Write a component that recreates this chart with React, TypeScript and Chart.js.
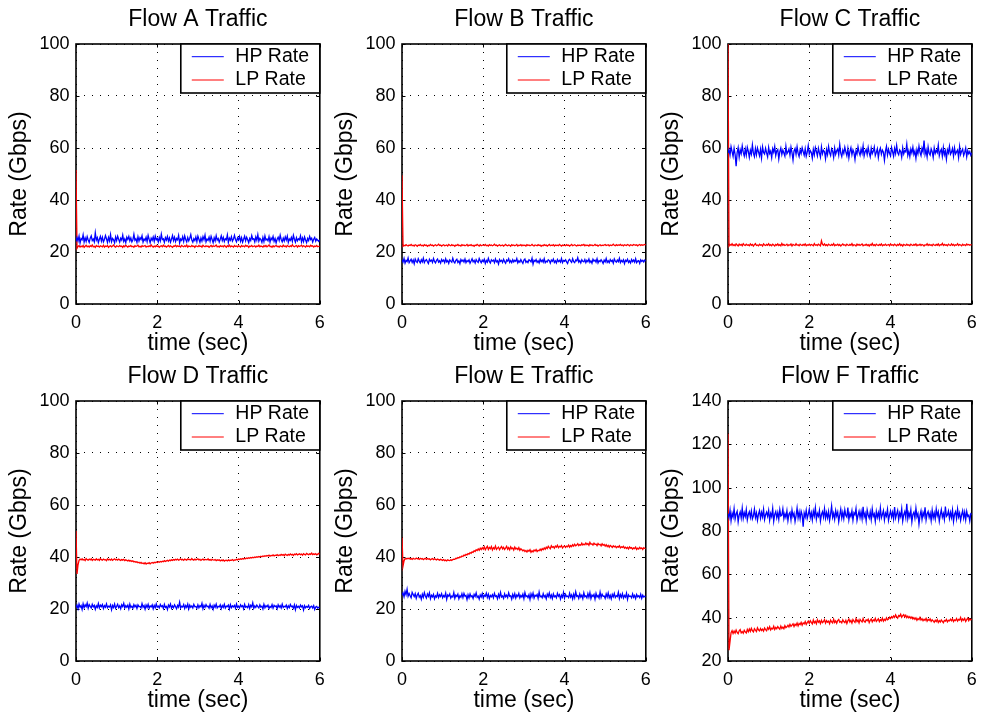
import { useEffect, useRef } from "react";
import { Chart, registerables } from "chart.js";

Chart.register(...registerables);

// ---------- data ----------
const DURATION = 6; // seconds shown on the time axis
const X_TICK_STEP = 2;
const Y_TICK_STEP = 20;
const SERIES_LABELS = ["HP Rate", "LP Rate"];
const SERIES_COLORS = ["#0000ff", "#ff0000"];
const TITLES = ["Flow A Traffic", "Flow B Traffic", "Flow C Traffic", "Flow D Traffic", "Flow E Traffic", "Flow F Traffic"];
const Y_RANGES: [number, number][] = [[0, 100], [0, 100], [0, 100], [0, 100], [0, 100], [20, 140]];
const X_LABEL = "time (sec)";
const Y_LABEL = "Rate (Gbps)";

// rate samples (Gbps), evenly spaced from t = 0 to t = 6 s
const A_HP = [24.0, 25.6, 24.3, 26.1, 23.5, 25.2, 24.7, 26.6, 23.8, 25.4, 24.1, 25.9, 24.6, 23.7, 25.3, 26.2, 24.4, 25.0, 23.9, 27.4,
  24.6, 25.5, 23.6, 24.9, 26.0, 24.2, 25.7, 23.9, 24.8, 26.3, 25.1, 23.7, 25.6, 24.3, 26.7, 24.0, 25.2, 24.7, 23.5, 25.8,
  24.4, 26.1, 24.9, 23.8, 25.3, 24.6, 26.5, 24.1, 25.0, 23.6, 25.7, 24.8, 26.0, 24.3, 25.4, 23.9, 24.7, 26.8, 24.5, 25.1,
  23.7, 25.9, 24.2, 25.5, 24.8, 26.2, 23.8, 25.0, 24.4, 25.7, 24.0, 26.4, 24.9, 23.6, 25.3, 24.5, 25.8, 24.1, 26.1, 24.7,
  25.2, 23.9, 25.6, 24.3, 26.9, 24.8, 25.1, 23.7, 25.5, 24.6, 26.0, 24.2, 25.4, 23.8, 24.9, 26.3, 24.4, 25.7, 24.0, 25.2,
  24.7, 26.4, 23.5, 25.0, 24.5, 25.9, 24.1, 26.2, 24.8, 23.9, 25.6, 24.3, 25.3, 26.7, 24.6, 23.8, 25.1, 24.4, 25.8, 24.0,
  26.1, 24.9, 23.7, 25.4, 24.2, 25.9, 24.7, 26.5, 23.9, 25.0, 24.5, 25.7, 24.1, 26.0, 24.8, 23.6, 25.5, 24.3, 26.3, 24.6,
  25.2, 23.8, 24.9, 26.2, 24.4, 25.6, 24.0, 25.1, 24.7, 26.6, 23.7, 25.3, 24.5, 25.9, 24.2, 25.0, 26.4, 24.8, 23.9, 25.4,
  24.6, 26.0, 24.1, 25.5, 23.8, 24.9, 26.1, 24.3, 25.7, 24.7, 23.6, 25.2, 24.4, 26.3, 24.9, 25.1, 23.9, 25.8, 24.5, 26.7,
  24.2, 25.3, 24.8, 23.7, 25.6, 24.0, 26.2, 24.6, 25.0, 24.3, 25.9, 23.8, 25.4, 24.7, 26.0, 24.1, 25.2, 23.5, 24.9, 25.7,
  24.4, 26.5, 24.8, 23.9, 25.3, 24.2, 25.8, 24.6, 26.1, 23.7, 25.0, 24.5, 25.6, 24.1, 26.4, 24.9, 23.8, 25.5, 24.3, 25.1,
  24.7, 26.2, 23.9, 25.4, 24.0, 25.8, 24.6, 23.6, 25.2, 24.4, 26.0, 24.8, 25.3, 23.8, 24.9, 25.6, 24.2, 25.0, 24.5, 24.1,
  24.8];
const A_LP = [51.5, 21.4, 22.1, 22.4, 21.9, 22.3, 22.0, 22.5, 21.8, 22.2, 22.6, 22.0, 22.3, 21.9, 22.4, 22.1, 22.7, 22.0, 22.2, 21.8,
  22.5, 22.1, 22.3, 21.9, 22.4, 22.2, 22.0, 22.6, 21.9, 22.3, 22.1, 22.5, 21.8, 22.2, 22.4, 22.0, 22.3, 22.7, 22.1, 21.9,
  22.4, 22.2, 22.0, 22.5, 22.1, 22.3, 21.8, 22.4, 22.0, 22.6, 22.2, 21.9, 22.3, 22.1, 22.5, 22.0, 22.2, 21.8, 22.4, 22.1,
  22.3, 22.6, 22.0, 22.2, 21.9, 22.4, 22.1, 22.3, 22.5, 21.9, 22.2, 22.0, 22.4, 22.1, 22.7, 22.2, 21.9, 22.3, 22.0, 22.5,
  22.1, 22.3, 21.8, 22.2, 22.4, 22.0, 22.6, 22.1, 22.3, 21.9, 22.2, 22.5, 22.0, 22.4, 22.1, 21.8, 22.3, 22.2, 22.6, 22.0,
  22.4, 22.1, 22.3, 21.9, 22.5, 22.2, 22.0, 22.4, 22.1, 22.7, 21.9, 22.3, 22.2, 22.0, 22.5, 22.1, 22.3, 21.8, 22.4, 22.2,
  22.0, 22.5, 22.1, 22.3, 21.9, 22.6, 22.2, 22.0, 22.4, 22.1, 22.3, 21.8, 22.2, 22.5, 22.0, 22.4, 22.1, 22.3, 22.7, 22.0,
  22.2, 21.9, 22.4, 22.1, 22.3, 22.0, 22.5, 22.2, 21.8, 22.4, 22.1, 22.6, 22.0, 22.3, 22.2, 21.9, 22.5, 22.1, 22.3, 22.0,
  22.4, 22.2, 21.9, 22.5, 22.1, 22.3, 22.0, 22.6, 22.2, 22.4, 21.8, 22.3, 22.1, 22.5, 22.0, 22.2, 22.4, 21.9, 22.3, 22.1,
  22.6, 22.0, 22.3, 22.2, 21.9, 22.4, 22.1, 22.5, 22.0, 22.3, 22.7, 22.1, 22.2, 21.8, 22.4, 22.0, 22.3, 22.5, 22.1, 22.2,
  21.9, 22.4, 22.2, 22.0, 22.6, 22.1, 22.3, 21.9, 22.5, 22.2, 22.0, 22.4, 22.1, 22.8, 22.2, 22.0, 22.3, 22.5, 21.9, 22.4,
  22.1, 22.3, 22.6, 22.0, 22.4, 22.2, 21.9, 22.5, 22.1, 22.3, 22.0, 22.6, 22.2, 22.4, 21.9, 22.3, 22.1, 22.5, 22.0, 22.2,
  22.3];
const B_HP = [17.0, 16.1, 17.5, 15.7, 16.8, 16.3, 17.7, 15.9, 16.6, 17.2, 16.0, 16.9, 15.5, 17.3, 16.4, 16.0, 17.4, 16.5, 15.8, 17.0,
  16.2, 17.6, 15.9, 16.7, 17.1, 16.3, 15.6, 17.2, 16.5, 16.9, 16.0, 17.5, 16.4, 15.8, 16.8, 17.3, 16.1, 16.6, 15.7, 17.1,
  16.4, 16.9, 15.9, 17.4, 16.2, 16.7, 15.6, 17.0, 16.5, 16.1, 17.6, 16.3, 15.8, 16.8, 17.2, 16.0, 16.6, 15.5, 17.1, 16.4,
  16.9, 16.1, 17.3, 15.9, 16.7, 16.3, 17.0, 15.7, 16.5, 17.4, 16.2, 16.8, 15.8, 17.1, 16.4, 16.0, 17.5, 16.6, 15.9, 16.9,
  16.3, 17.2, 15.6, 16.7, 16.1, 17.6, 16.4, 15.8, 17.0, 16.5, 16.9, 15.9, 17.3, 16.2, 16.6, 15.4, 17.1, 16.4, 16.8, 16.0,
  17.2, 16.3, 15.7, 16.9, 16.5, 17.4, 16.0, 16.7, 15.9, 17.0, 16.2, 16.8, 16.4, 17.5, 15.8, 16.6, 16.1, 17.1, 16.3, 15.6,
  16.9, 17.3, 16.0, 16.5, 15.9, 17.0, 16.7, 16.2, 17.6, 15.3, 16.8, 16.4, 17.1, 16.0, 16.6, 15.8, 17.2, 16.3, 16.9, 16.1,
  17.4, 15.9, 16.5, 16.2, 17.0, 16.7, 15.7, 16.9, 16.4, 17.3, 16.0, 16.6, 15.8, 17.1, 16.3, 16.8, 16.1, 17.5, 15.9, 16.7,
  16.4, 17.0, 16.2, 15.6, 16.8, 17.2, 16.5, 16.0, 17.4, 16.3, 15.9, 16.9, 16.6, 17.8, 16.1, 16.7, 15.8, 17.0, 16.4, 16.2,
  17.1, 15.9, 16.8, 16.3, 17.3, 16.0, 16.6, 15.7, 17.2, 16.5, 16.9, 16.1, 17.4, 15.8, 16.7, 16.3, 17.0, 16.4, 15.6, 16.9,
  16.2, 17.5, 16.0, 16.6, 15.9, 17.1, 16.4, 16.8, 15.7, 17.3, 16.5, 16.1, 16.9, 16.3, 17.6, 15.9, 16.7, 16.2, 17.0, 15.5,
  16.8, 16.4, 17.2, 16.0, 16.6, 15.8, 17.1, 16.3, 16.9, 16.1, 17.4, 15.9, 16.5, 16.7, 15.6, 17.0, 16.4, 16.8, 16.2, 16.9,
  16.5];
const B_LP = [49.5, 22.2, 22.6, 22.4, 22.8, 22.5, 22.3, 22.7, 22.5, 22.9, 22.4, 22.6, 22.3, 22.8, 22.6, 22.2, 22.7, 22.5, 22.9, 22.4,
  22.6, 22.3, 22.8, 22.5, 22.7, 22.2, 22.6, 22.4, 22.9, 22.5, 22.7, 22.3, 22.6, 22.8, 22.4, 22.6, 23.0, 22.5, 22.7, 22.3,
  22.6, 22.8, 22.4, 22.5, 22.7, 22.3, 22.9, 22.6, 22.4, 22.8, 22.5, 22.6, 22.2, 22.7, 22.5, 22.9, 22.4, 22.6, 22.3, 22.8,
  22.5, 22.7, 22.4, 22.6, 22.9, 22.3, 22.7, 22.5, 22.8, 22.4, 22.6, 22.2, 22.7, 22.5, 22.9, 22.6, 22.3, 22.8, 22.4, 22.6,
  22.7, 22.5, 22.9, 22.4, 22.6, 22.3, 22.8, 22.5, 22.7, 22.4, 22.6, 23.0, 22.5, 22.7, 22.3, 22.6, 22.8, 22.4, 22.5, 22.7,
  22.3, 22.6, 22.9, 22.5, 22.4, 22.7, 22.6, 22.2, 22.8, 22.5, 22.7, 22.4, 22.6, 22.9, 22.3, 22.6, 22.5, 22.8, 22.4, 22.7,
  22.5, 22.6, 22.3, 22.8, 22.5, 22.7, 22.4, 22.6, 22.9, 22.5, 22.3, 22.7, 22.6, 22.4, 22.8, 22.5, 22.7, 22.2, 22.6, 22.4,
  22.8, 22.5, 22.7, 22.3, 22.6, 22.9, 22.4, 22.6, 22.5, 22.8, 22.3, 22.7, 22.5, 22.6, 22.4, 22.9, 22.6, 22.3, 22.7, 22.5,
  22.6, 22.4, 22.8, 22.5, 22.7, 22.3, 22.6, 22.9, 22.4, 22.6, 22.8, 22.5, 22.3, 22.7, 22.5, 22.6, 22.4, 22.8, 22.6, 22.9,
  22.4, 22.7, 22.5, 22.6, 22.3, 22.8, 22.5, 22.7, 22.4, 22.6, 22.9, 22.5, 22.7, 22.3, 22.6, 22.8, 22.4, 22.6, 22.5, 22.7,
  22.9, 22.5, 22.6, 22.8, 22.4, 22.7, 22.5, 22.6, 23.0, 22.6, 22.4, 22.8, 22.5, 22.7, 22.6, 22.9, 22.5, 22.7, 22.4, 22.8,
  22.6, 22.5, 22.9, 22.7, 22.4, 22.8, 22.6, 22.5, 22.9, 22.7, 22.6, 22.8, 22.4, 22.7, 22.9, 22.5, 22.8, 22.6, 22.7, 22.9,
  22.7];
const C_HP = [58.0, 59.4, 57.3, 60.5, 58.6, 56.8, 59.9, 57.5, 53.0, 58.2, 60.1, 56.5, 59.3, 57.8, 60.8, 58.4, 56.9, 59.6, 57.2, 60.3,
  58.7, 56.4, 59.1, 57.6, 61.2, 58.0, 56.7, 59.8, 57.4, 60.0, 58.5, 57.0, 59.5, 56.2, 60.4, 58.3, 57.7, 59.9, 58.1, 56.6,
  60.2, 57.9, 58.8, 56.3, 59.7, 58.4, 60.6, 57.1, 58.9, 59.4, 55.8, 58.6, 60.0, 57.5, 59.2, 58.1, 56.9, 60.7, 57.8, 58.5,
  59.6, 57.3, 60.3, 58.2, 55.4, 58.9, 59.8, 57.6, 60.5, 58.0, 56.7, 59.3, 57.9, 60.1, 58.6, 57.2, 59.7, 56.8, 58.4, 60.9,
  57.7, 59.0, 58.3, 56.1, 59.5, 57.4, 60.2, 58.7, 57.0, 59.9, 58.1, 56.5, 60.4, 57.8, 59.1, 58.6, 55.9, 59.4, 57.5, 60.6,
  58.2, 57.1, 59.7, 58.8, 56.4, 60.0, 57.6, 58.9, 59.6, 57.3, 61.3, 58.0, 56.7, 59.2, 57.9, 60.3, 58.5, 57.0, 59.8, 56.2,
  58.7, 60.1, 57.4, 59.3, 58.2, 55.6, 59.0, 57.7, 60.5, 58.4, 57.2, 59.6, 58.0, 60.8, 56.9, 58.6, 59.4, 57.5, 60.2, 58.1,
  56.6, 59.9, 57.8, 58.7, 60.4, 57.1, 58.3, 59.7, 56.3, 58.9, 60.0, 57.6, 59.2, 58.4, 55.3, 58.8, 60.6, 57.3, 59.5, 58.0,
  57.0, 60.2, 58.6, 56.8, 59.8, 57.9, 61.0, 58.2, 57.4, 59.3, 58.7, 56.5, 60.1, 57.7, 59.0, 58.5, 61.5, 57.2, 58.9, 56.7,
  59.6, 58.1, 60.3, 57.5, 58.8, 56.0, 59.4, 57.8, 60.7, 58.3, 57.1, 59.9, 58.5, 62.9, 57.6, 59.2, 56.6, 60.4, 58.0, 57.3,
  59.7, 58.6, 56.4, 60.0, 57.9, 59.1, 58.2, 61.1, 57.0, 58.7, 59.5, 56.8, 60.2, 57.4, 58.9, 55.7, 59.3, 58.1, 60.6, 57.6,
  58.4, 59.8, 56.9, 60.1, 57.7, 58.5, 59.2, 56.3, 60.5, 57.5, 58.8, 59.6, 57.1, 58.3, 60.0, 56.6, 59.0, 57.8, 58.6, 57.2,
  58.2];
const C_LP = [100.0, 22.3, 22.9, 22.6, 23.2, 22.5, 22.8, 22.4, 23.1, 22.7, 22.3, 23.0, 22.6, 22.9, 22.4, 23.2, 22.7, 22.5, 23.0, 22.6,
  22.8, 22.4, 23.1, 22.6, 22.9, 22.3, 22.8, 23.2, 22.5, 22.7, 22.4, 23.0, 22.6, 22.8, 22.3, 23.1, 22.7, 22.5, 22.9, 22.6,
  23.2, 22.5, 22.8, 22.4, 23.0, 22.7, 22.3, 22.9, 22.6, 23.1, 22.5, 22.8, 22.4, 23.3, 22.6, 22.9, 22.5, 22.7, 23.0, 22.4,
  22.8, 22.6, 23.1, 22.3, 22.9, 22.7, 22.5, 23.2, 22.6, 22.8, 22.4, 23.0, 22.7, 22.5, 22.9, 22.6, 23.1, 22.4, 22.8, 22.6,
  23.0, 22.5, 22.9, 22.7, 22.4, 23.2, 22.6, 22.8, 22.5, 23.0, 22.7, 22.4, 24.3, 22.9, 22.6, 23.1, 22.5, 22.8, 22.4, 23.0,
  22.7, 22.5, 22.9, 22.6, 23.2, 22.4, 22.8, 22.6, 23.0, 22.5, 22.9, 22.3, 22.7, 23.1, 22.6, 22.8, 22.4, 23.0, 22.7, 22.5,
  22.9, 22.6, 23.2, 22.4, 22.8, 22.7, 22.3, 23.0, 22.6, 22.9, 22.5, 22.8, 23.1, 22.4, 22.7, 22.6, 23.0, 22.5, 22.8, 22.3,
  22.9, 22.6, 23.3, 22.5, 22.8, 22.4, 23.0, 22.7, 22.5, 22.9, 22.6, 23.1, 22.4, 22.8, 22.6, 23.0, 22.5, 22.7, 22.9, 22.4,
  23.1, 22.6, 22.8, 22.5, 23.0, 22.7, 22.4, 22.9, 22.6, 23.2, 22.5, 22.8, 22.3, 22.9, 22.7, 22.5, 23.0, 22.6, 22.8, 22.4,
  23.0, 22.7, 22.5, 22.9, 22.6, 23.1, 22.4, 22.8, 22.6, 23.0, 22.5, 22.9, 22.7, 22.3, 22.8, 22.6, 23.2, 22.5, 22.9, 22.6,
  22.8, 22.4, 23.0, 22.7, 22.5, 22.9, 22.6, 23.1, 22.4, 22.8, 22.7, 23.3, 22.5, 22.9, 22.6, 22.8, 22.4, 23.0, 22.7, 22.5,
  23.1, 22.6, 22.9, 22.4, 22.8, 22.6, 23.2, 22.5, 22.9, 22.7, 22.4, 23.0, 22.6, 22.8, 22.5, 23.1, 22.7, 22.9, 22.6, 22.8,
  22.7];
const D_HP = [20.6, 21.5, 20.1, 21.9, 20.7, 21.3, 19.8, 22.0, 20.5, 21.6, 20.9, 22.3, 20.3, 21.7, 21.0, 20.4, 21.8, 20.8, 21.4, 19.9,
  21.2, 20.6, 22.1, 20.4, 21.5, 20.9, 21.7, 20.2, 21.3, 20.7, 22.0, 20.5, 21.1, 20.8, 21.6, 19.7, 21.4, 20.6, 21.9, 20.3,
  21.0, 21.8, 20.5, 21.2, 20.1, 21.6, 20.9, 22.2, 20.4, 21.3, 20.7, 21.5, 20.0, 21.9, 20.6, 21.1, 20.3, 21.7, 20.8, 21.4,
  20.2, 21.6, 20.9, 21.0, 20.4, 22.1, 20.7, 21.3, 19.9, 21.5, 20.6, 21.8, 20.3, 21.2, 20.8, 21.6, 20.1, 21.4, 20.5, 22.0,
  20.7, 21.1, 20.4, 21.7, 20.9, 21.3, 20.2, 21.8, 20.6, 21.0, 19.8, 21.5, 20.8, 21.9, 20.3, 21.2, 20.5, 21.6, 20.9, 20.1,
  21.4, 20.7, 22.6, 20.4, 21.1, 20.8, 21.7, 20.2, 21.3, 20.6, 21.9, 20.0, 21.5, 20.7, 21.2, 20.4, 21.8, 20.9, 21.0, 20.3,
  21.6, 20.5, 21.3, 20.8, 22.2, 20.1, 21.4, 20.6, 21.7, 20.9, 21.1, 20.3, 21.8, 20.5, 21.2, 19.9, 21.5, 20.7, 21.9, 20.4,
  21.0, 20.8, 21.6, 20.2, 21.3, 20.6, 21.8, 20.4, 21.1, 20.9, 21.5, 20.0, 21.7, 20.5, 21.2, 20.8, 21.4, 20.3, 21.9, 20.6,
  21.1, 20.4, 21.6, 20.9, 21.3, 20.1, 21.8, 20.7, 21.0, 20.5, 21.7, 20.2, 21.4, 20.8, 22.4, 20.3, 21.2, 20.6, 21.5, 20.9,
  20.4, 21.6, 20.7, 21.1, 20.0, 21.8, 20.5, 21.3, 20.8, 21.5, 20.2, 21.0, 20.6, 21.7, 20.3, 21.4, 20.9, 21.2, 20.1, 21.6,
  20.7, 21.3, 20.4, 21.9, 20.6, 21.0, 20.8, 21.5, 20.2, 21.2, 20.5, 21.7, 20.9, 21.1, 20.3, 21.6, 19.7, 21.4, 20.6, 21.0,
  20.4, 21.5, 20.8, 21.2, 19.6, 21.3, 20.5, 21.0, 20.7, 21.4, 20.2, 20.9, 21.1, 20.4, 21.3, 19.8, 20.8, 21.0, 20.3, 20.7,
  20.6];
const D_LP = [50.0, 33.5, 37.0, 38.7, 39.2, 38.9, 39.3, 38.8, 39.1, 38.6, 39.4, 39.0, 38.8, 39.2, 38.9, 39.3, 38.7, 39.1, 39.0, 38.8,
  39.3, 38.9, 39.1, 38.7, 39.4, 39.0, 38.8, 39.2, 38.9, 39.0, 38.6, 39.3, 38.9, 39.1, 38.8, 39.2, 38.7, 39.0, 39.3, 38.9,
  39.1, 38.8, 39.2, 38.9, 38.7, 39.0, 38.8, 39.1, 38.6, 38.9, 38.7, 38.5, 38.8, 38.4, 38.6, 38.3, 38.5, 38.1, 38.3, 38.0,
  38.2, 37.8, 38.0, 37.6, 37.9, 37.5, 37.7, 37.4, 37.8, 37.3, 37.6, 37.5, 37.8, 37.4, 37.7, 37.9, 37.6, 38.0, 37.8, 38.1,
  37.9, 38.2, 38.0, 38.3, 38.1, 38.4, 38.2, 38.6, 38.3, 38.5, 38.7, 38.4, 38.8, 38.6, 38.9, 38.7, 39.0, 38.8, 39.1, 38.9,
  39.2, 38.8, 39.0, 39.3, 38.9, 39.1, 38.7, 39.2, 39.0, 38.8, 39.3, 39.0, 39.1, 38.9, 39.4, 39.0, 38.8, 39.2, 38.9, 39.1,
  39.3, 38.9, 39.1, 38.7, 39.0, 39.2, 38.8, 39.1, 39.0, 38.9, 39.3, 38.8, 39.0, 38.7, 39.1, 38.9, 38.8, 39.0, 38.6, 38.9,
  38.7, 38.9, 38.5, 38.8, 38.6, 38.9, 38.4, 38.7, 38.8, 38.5, 38.9, 38.6, 38.8, 38.7, 39.0, 38.6, 38.9, 38.8, 39.1, 38.9,
  39.2, 39.0, 39.3, 39.1, 39.4, 39.2, 39.5, 39.3, 39.6, 39.4, 39.7, 39.5, 39.8, 39.6, 39.9, 39.7, 40.0, 39.8, 40.1, 39.9,
  40.2, 40.0, 40.3, 40.1, 40.4, 40.2, 40.5, 40.3, 40.6, 40.4, 40.7, 40.3, 40.6, 40.5, 40.8, 40.4, 40.7, 40.6, 40.9, 40.5,
  40.8, 40.6, 41.0, 40.7, 40.9, 40.5, 41.1, 40.8, 40.6, 41.0, 40.7, 41.2, 40.8, 41.0, 40.6, 41.1, 40.9, 41.3, 40.8, 41.0,
  41.2, 40.9, 41.1, 40.7, 41.3, 41.0, 40.8, 41.4, 41.1, 40.9, 41.2, 41.0, 41.5, 40.9, 41.2, 41.0, 41.3, 40.8, 41.1, 41.4,
  41.0];
const E_HP = [25.3, 26.2, 24.7, 26.8, 25.5, 27.6, 24.9, 26.0, 25.1, 24.3, 26.4, 25.6, 24.8, 25.9, 24.1, 25.4, 26.1, 24.6, 25.2, 23.8,
  25.7, 24.5, 26.3, 25.0, 24.2, 25.8, 24.9, 26.2, 24.0, 25.3, 24.7, 25.6, 23.9, 25.1, 24.6, 26.0, 24.4, 25.5, 24.8, 25.9,
  24.3, 25.2, 24.7, 26.1, 23.7, 25.4, 24.9, 25.8, 24.2, 25.0, 24.6, 26.3, 24.1, 25.3, 24.8, 25.7, 23.9, 25.1, 24.5, 25.9,
  24.4, 26.0, 24.9, 25.2, 23.6, 25.5, 24.3, 25.8, 24.7, 25.1, 24.0, 25.6, 24.8, 26.2, 24.5, 25.0, 23.8, 25.4, 24.6, 25.9,
  24.2, 25.3, 24.9, 26.1, 24.4, 25.7, 24.0, 25.2, 24.7, 25.5, 24.3, 26.0, 24.8, 25.1, 23.9, 25.6, 24.5, 26.4, 24.6, 25.0,
  24.1, 25.8, 24.7, 25.3, 24.4, 26.2, 24.9, 25.1, 23.8, 25.6, 24.5, 25.9, 24.2, 25.4, 24.8, 26.0, 24.3, 25.2, 24.6, 25.7,
  24.0, 26.3, 24.8, 25.1, 24.4, 25.5, 23.7, 25.8, 24.6, 26.1, 24.2, 25.3, 24.9, 25.6, 24.1, 26.5, 24.7, 25.0, 24.3, 25.9,
  24.6, 25.2, 23.9, 25.7, 24.8, 26.2, 24.4, 25.4, 24.0, 25.8, 24.7, 25.1, 24.3, 26.0, 24.9, 25.5, 23.8, 25.3, 24.5, 26.4,
  24.2, 25.6, 24.8, 25.0, 24.4, 26.1, 24.6, 25.4, 23.9, 25.7, 24.3, 26.6, 24.9, 25.2, 24.1, 25.8, 24.6, 25.3, 24.0, 26.2,
  24.7, 25.1, 24.3, 25.9, 24.5, 26.3, 24.0, 25.4, 24.8, 25.6, 23.8, 26.0, 24.6, 25.2, 24.2, 26.5, 24.4, 25.7, 24.9, 25.0,
  24.1, 25.8, 24.6, 26.2, 24.3, 25.3, 23.9, 25.6, 24.7, 26.0, 24.4, 25.1, 24.8, 26.4, 24.0, 25.5, 24.5, 25.9, 24.2, 25.2,
  24.6, 26.1, 23.7, 25.4, 24.8, 25.0, 24.3, 25.8, 24.5, 25.2, 24.0, 25.6, 24.7, 25.1, 24.4, 25.7, 24.1, 25.3, 24.6, 24.9,
  24.8];
const E_LP = [47.5, 36.5, 38.5, 39.4, 39.2, 39.5, 39.3, 39.6, 39.2, 39.4, 39.1, 39.5, 39.3, 39.2, 39.6, 39.3, 39.4, 39.1, 39.5, 39.2,
  39.4, 39.0, 39.3, 39.5, 39.1, 39.4, 39.2, 39.3, 38.9, 39.2, 39.4, 39.0, 39.3, 39.1, 38.9, 39.2, 39.0, 38.8, 39.1, 38.9,
  38.7, 39.0, 38.6, 38.8, 38.5, 38.9, 38.7, 38.6, 38.9, 38.7, 39.0, 39.2, 39.1, 39.5, 39.4, 39.8, 39.6, 40.1, 39.9, 40.4,
  40.2, 40.7, 40.5, 41.0, 40.8, 41.3, 41.1, 41.7, 41.4, 42.0, 41.8, 42.4, 42.1, 42.8, 42.5, 43.1, 42.6, 43.4, 42.9, 43.6,
  43.0, 43.9, 42.8, 43.5, 44.1, 42.9, 43.7, 43.2, 44.0, 42.7, 43.6, 43.1, 44.2, 42.9, 43.4, 43.8, 42.8, 43.5, 44.0, 43.1,
  43.7, 42.9, 43.4, 44.1, 43.0, 43.6, 42.8, 43.9, 43.2, 43.5, 42.7, 43.8, 43.1, 43.4, 42.9, 43.6, 42.6, 43.2, 42.8, 42.4,
  42.7, 42.1, 42.5, 41.9, 42.6, 42.2, 42.8, 41.8, 42.4, 42.0, 42.7, 42.3, 42.9, 42.1, 42.6, 42.4, 43.0, 42.5, 43.2, 42.8,
  43.5, 43.0, 43.8, 43.3, 44.1, 43.6, 43.2, 44.3, 43.7, 44.0, 43.4, 44.2, 43.8, 44.5, 43.6, 44.1, 43.9, 44.4, 43.5, 44.0,
  44.3, 43.7, 44.2, 43.9, 44.6, 43.8, 44.4, 44.0, 44.7, 44.2, 44.9, 44.3, 44.6, 45.1, 44.4, 44.8, 44.5, 45.3, 44.6, 45.0,
  44.7, 45.4, 44.8, 45.2, 44.5, 45.6, 44.9, 45.1, 44.6, 45.3, 44.8, 45.0, 44.4, 45.2, 44.7, 44.9, 44.3, 45.1, 44.5, 44.8,
  44.2, 44.7, 44.0, 44.5, 43.8, 44.4, 44.1, 43.7, 44.3, 43.9, 44.2, 43.6, 44.0, 43.8, 44.3, 43.5, 43.9, 43.7, 44.1, 43.4,
  43.8, 43.3, 43.7, 43.1, 43.9, 43.4, 43.6, 43.0, 43.5, 43.2, 43.8, 42.9, 43.4, 43.1, 43.7, 43.2, 43.5, 42.9, 43.6, 43.3,
  43.2];
const F_HP = [88.0, 86.1, 89.6, 84.7, 88.2, 86.4, 90.3, 85.5, 87.9, 89.1, 84.2, 87.4, 88.8, 86.0, 90.5, 85.8, 88.4, 86.7, 89.9, 85.1,
  87.6, 88.9, 86.3, 89.2, 85.6, 87.0, 90.1, 86.2, 88.3, 84.9, 87.8, 89.4, 85.9, 88.6, 86.5, 90.0, 85.3, 87.5, 88.7, 86.8,
  89.5, 85.0, 88.1, 86.6, 90.4, 84.5, 87.7, 89.0, 86.1, 88.5, 85.4, 89.8, 86.9, 87.3, 90.2, 85.7, 88.0, 86.3, 89.3, 84.8,
  87.9, 88.6, 85.2, 89.7, 86.7, 88.2, 84.4, 87.1, 90.6, 86.0, 88.8, 85.6, 89.1, 87.4, 82.0, 88.3, 86.5, 89.6, 85.8, 87.7,
  90.0, 86.2, 88.4, 85.1, 89.2, 87.0, 90.7, 85.5, 88.1, 86.8, 89.5, 84.6, 87.6, 88.9, 86.4, 90.3, 85.9, 88.5, 86.1, 89.0,
  84.9, 87.8, 91.5, 86.3, 88.2, 85.4, 89.4, 86.9, 88.7, 84.3, 87.3, 90.1, 86.0, 88.6, 85.7, 89.8, 87.1, 86.4, 90.8, 85.2,
  88.0, 86.7, 89.3, 85.0, 88.4, 87.5, 90.4, 84.8, 87.2, 89.1, 86.2, 88.9, 85.6, 91.2, 86.5, 88.1, 84.7, 89.7, 87.4, 86.0,
  88.8, 85.3, 90.2, 86.8, 87.9, 84.5, 89.0, 86.3, 88.5, 85.8, 90.6, 86.1, 87.6, 89.4, 85.1, 88.2, 86.9, 90.0, 84.9, 87.3,
  89.2, 86.4, 88.6, 85.5, 91.0, 86.0, 87.8, 89.5, 85.2, 88.3, 86.7, 90.3, 84.6, 87.5, 88.9, 86.2, 92.6, 85.7, 88.4, 86.5,
  89.8, 84.2, 87.7, 88.7, 85.9, 90.5, 86.6, 88.0, 83.2, 87.2, 89.3, 85.4, 88.5, 86.8, 90.9, 85.1, 87.9, 89.0, 86.3, 88.2,
  84.8, 89.6, 86.1, 88.3, 85.6, 90.2, 87.0, 88.8, 84.5, 87.6, 89.9, 86.4, 88.1, 85.3, 91.3, 86.7, 87.4, 89.2, 85.8, 88.6,
  86.2, 89.7, 84.4, 87.8, 88.9, 85.7, 90.1, 86.5, 88.3, 84.9, 87.5, 89.4, 86.0, 88.7, 85.2, 89.1, 86.8, 87.3, 84.6, 88.0,
  87.6];
const F_LP = [125.0, 25.0, 29.0, 33.1, 34.0, 32.7, 33.8, 32.9, 34.3, 33.2, 32.6, 33.9, 34.5, 33.0, 33.6, 32.8, 34.2, 33.4, 32.9, 34.6,
  33.5, 34.8, 33.7, 35.1, 34.0, 33.4, 34.9, 34.2, 33.6, 35.3, 34.4, 33.9, 35.0, 34.1, 34.7, 33.8, 35.2, 34.5, 34.0, 35.4,
  34.6, 35.8, 34.3, 35.1, 34.8, 36.0, 34.5, 35.5, 34.9, 35.9, 35.2, 34.7, 36.1, 35.0, 35.6, 34.9, 36.3, 35.4, 35.8, 36.5,
  35.7, 36.9, 36.0, 36.6, 37.2, 35.9, 37.0, 36.4, 37.5, 36.2, 37.3, 36.8, 37.8, 36.5, 37.6, 37.1, 38.2, 36.9, 37.7, 38.4,
  37.4, 38.6, 37.8, 37.1, 38.9, 37.6, 38.3, 37.2, 39.0, 37.9, 38.5, 37.3, 38.8, 37.7, 38.2, 39.1, 37.5, 38.6, 37.9, 38.4,
  37.2, 38.9, 38.1, 37.6, 39.3, 37.8, 38.5, 37.4, 38.7, 39.2, 37.9, 38.3, 37.6, 39.0, 38.2, 37.7, 38.8, 37.3, 38.6, 39.4,
  38.0, 38.7, 37.5, 39.1, 38.4, 37.8, 39.5, 38.2, 38.9, 37.6, 39.2, 38.5, 38.0, 39.6, 38.3, 37.9, 39.0, 38.6, 39.3, 37.7,
  38.8, 39.4, 38.1, 39.0, 38.5, 39.7, 38.3, 38.9, 39.5, 38.2, 39.1, 38.6, 39.8, 38.4, 39.2, 38.7, 39.9, 39.0, 39.4, 40.2,
  39.6, 40.5, 39.9, 40.8, 40.1, 41.3, 40.4, 39.8, 41.0, 40.6, 41.6, 40.2, 40.9, 41.4, 40.3, 41.1, 40.0, 40.7, 39.9, 40.5,
  39.7, 40.3, 39.4, 40.0, 39.2, 39.9, 38.8, 39.6, 39.1, 40.1, 38.9, 39.5, 38.6, 39.3, 38.8, 39.7, 38.4, 39.2, 38.7, 39.4,
  38.3, 39.0, 38.5, 37.9, 38.8, 38.2, 39.1, 37.8, 38.6, 38.0, 38.9, 38.3, 37.7, 38.7, 38.4, 39.2, 38.1, 38.8, 38.5, 39.3,
  38.6, 39.5, 38.2, 39.0, 38.7, 39.6, 38.4, 39.2, 38.9, 40.1, 38.5, 39.4, 38.8, 39.7, 38.3, 39.1, 39.8, 38.6, 39.5, 39.0,
  39.4];

const HP_SERIES = [A_HP, B_HP, C_HP, D_HP, E_HP, F_HP];
const LP_SERIES = [A_LP, B_LP, C_LP, D_LP, E_LP, F_LP];

// ---------- layout ----------
const FONT = "'Liberation Sans', Arial, Helvetica, sans-serif";
const CANVAS_W = 333;
const CANVAS_H = 360;
const COL_LEFT = [0, 326, 652];
const ROW_TOP = [0, 357];
const Y_AXIS_W = 76;
const X_AXIS_H = 56;
const PAD_TOP = 44;
const PAD_RIGHT = 10;
const TICK_LEN = 3.5;

const toPoints = (vals: number[]) =>
  vals.map((y, i) => ({ x: (i * DURATION) / (vals.length - 1), y }));

function makePlugins(title: string) {
  const frame = {
    id: "frameTicks",
    beforeDatasetsDraw(chart: any) {
      const { ctx, chartArea, scales } = chart;
      const { left, right, top, bottom } = chartArea;
      ctx.save();
      ctx.strokeStyle = "#000";
      ctx.lineWidth = 1;
      ctx.beginPath();
      for (const t of scales.x.ticks) {
        const px = Math.round(scales.x.getPixelForValue(t.value)) + 0.5;
        ctx.moveTo(px, bottom);
        ctx.lineTo(px, bottom - TICK_LEN);
        ctx.moveTo(px, top);
        ctx.lineTo(px, top + TICK_LEN);
      }
      for (const t of scales.y.ticks) {
        const py = Math.round(scales.y.getPixelForValue(t.value)) + 0.5;
        ctx.moveTo(left, py);
        ctx.lineTo(left + TICK_LEN, py);
        ctx.moveTo(right, py);
        ctx.lineTo(right - TICK_LEN, py);
      }
      ctx.stroke();
      ctx.lineWidth = 1.6;
      ctx.strokeRect(left, top, right - left, bottom - top);
      ctx.restore();
    },
  };
  const legend = {
    id: "boxLegend",
    afterDatasetsDraw(chart: any) {
      const { ctx, chartArea } = chart;
      const w = 139;
      const h = 49;
      const x0 = chartArea.right - w;
      const y0 = chartArea.top;
      ctx.save();
      ctx.fillStyle = "#fff";
      ctx.fillRect(x0, y0, w, h);
      ctx.strokeStyle = "#000";
      ctx.lineWidth = 1.6;
      ctx.strokeRect(x0, y0, w, h);
      ctx.font = `19.5px ${FONT}`;
      ctx.textBaseline = "middle";
      ctx.textAlign = "left";
      chart.data.datasets.forEach((ds: any, i: number) => {
        const y = y0 + 12.7 + i * 23.3;
        ctx.strokeStyle = ds.borderColor;
        ctx.lineWidth = 1;
        ctx.beginPath();
        ctx.moveTo(x0 + 11, y);
        ctx.lineTo(x0 + 43, y);
        ctx.stroke();
        ctx.fillStyle = "#000";
        ctx.fillText(ds.label, x0 + 54.5, y);
      });
      ctx.restore();
    },
  };
  const titlePlugin = {
    id: "panelTitle",
    afterDraw(chart: any) {
      const { ctx, chartArea } = chart;
      ctx.save();
      ctx.font = `23px ${FONT}`;
      ctx.fillStyle = "#000";
      ctx.textAlign = "center";
      ctx.textBaseline = "middle";
      ctx.fillText(title, (chartArea.left + chartArea.right) / 2, 19.3);
      ctx.restore();
    },
  };
  return [frame, legend, titlePlugin];
}

function Panel({ index }: { index: number }) {
  const ref = useRef<HTMLCanvasElement>(null);
  useEffect(() => {
    const [yMin, yMax] = Y_RANGES[index];
    const chart = new Chart(ref.current as HTMLCanvasElement, {
      type: "line",
      data: {
        datasets: [HP_SERIES[index], LP_SERIES[index]].map((vals, k) => ({
          label: SERIES_LABELS[k],
          data: toPoints(vals),
          borderColor: SERIES_COLORS[k],
          backgroundColor: SERIES_COLORS[k],
          borderWidth: 1.3,
          pointRadius: 0,
          tension: 0,
          fill: false,
        })),
      },
      options: {
        responsive: false,
        animation: false,
        events: [],
        layout: { padding: { top: PAD_TOP, right: PAD_RIGHT, left: 0, bottom: 0 } },
        plugins: { legend: { display: false }, tooltip: { enabled: false }, title: { display: false } },
        scales: {
          x: {
            type: "linear",
            min: 0,
            max: DURATION,
            afterFit: (s: any) => { s.height = X_AXIS_H; },
            ticks: { stepSize: X_TICK_STEP, color: "#000", font: { size: 18, family: FONT }, padding: 8.2, maxRotation: 0, autoSkip: false },
            grid: { color: "#000", lineWidth: 1, drawTicks: false },
            border: { display: false, dash: [1, 7] },
            title: { display: true, text: X_LABEL, color: "#000", font: { size: 23, family: FONT }, padding: { top: 0, bottom: 2.2 } },
          },
          y: {
            type: "linear",
            min: yMin,
            max: yMax,
            afterFit: (s: any) => { s.width = Y_AXIS_W; },
            ticks: { stepSize: Y_TICK_STEP, color: "#000", font: { size: 18, family: FONT }, padding: 6.5, autoSkip: false },
            grid: { color: "#000", lineWidth: 1, drawTicks: false },
            border: { display: false, dash: [1, 7] },
            title: { display: true, text: Y_LABEL, color: "#000", font: { size: 23, family: FONT }, padding: { top: 6.2, bottom: 0 } },
          },
        },
      } as any,
      plugins: makePlugins(TITLES[index]) as any,
    });
    return () => chart.destroy();
  }, [index]);
  const col = index % 3;
  const row = Math.floor(index / 3);
  return (
    <canvas
      ref={ref}
      width={CANVAS_W}
      height={CANVAS_H}
      style={{ position: "absolute", left: COL_LEFT[col], top: ROW_TOP[row], width: CANVAS_W, height: CANVAS_H }}
    />
  );
}

export default function App() {
  return (
    <div style={{ position: "absolute", left: 0, top: 0, width: 988, height: 720, background: "#fff", overflow: "hidden" }}>
      {TITLES.map((_, i) => (
        <Panel key={i} index={i} />
      ))}
    </div>
  );
}
